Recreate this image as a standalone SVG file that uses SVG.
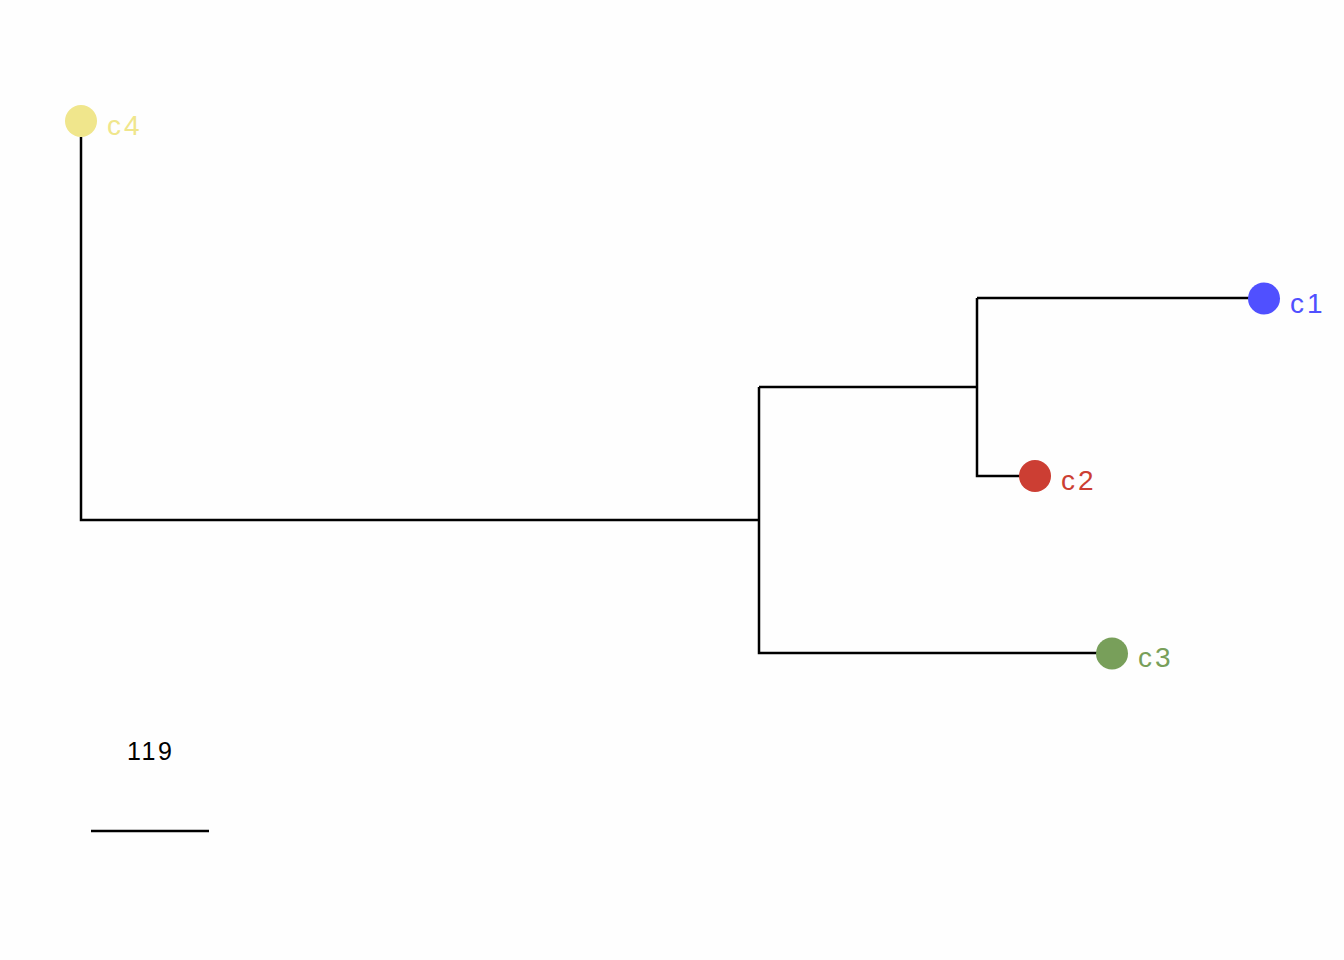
<svg xmlns="http://www.w3.org/2000/svg" width="1344" height="960" viewBox="0 0 1344 960">
<style>
.br{fill:none;stroke:#000;stroke-width:2.5;stroke-linecap:butt}
.lbl{font-family:"Liberation Sans",Arial,sans-serif;font-size:28px;letter-spacing:3px}
.sc{font-family:"Liberation Sans",Arial,sans-serif;font-size:25px;letter-spacing:2.5px;fill:#000}
</style>
<rect width="1344" height="960" fill="#fefefe"/>
<g id="connectors">
<path class="br" d="M81,137 V320"/>
<path class="br" d="M81,320 V520 H759"/>
<path class="br" d="M759,387 V653 H1100"/>
<path class="br" d="M759,387 H977"/>
<path class="br" d="M977,298 V476 H1022"/>
<path class="br" d="M977,298 H1250"/>
</g>
<g id="c1">
<circle cx="1264" cy="298.5" r="16" fill="#5050ff"/>
<text class="lbl" x="1290" y="312.5" fill="#5050ff">c1</text>
</g>
<g id="c2">
<circle cx="1035" cy="476" r="16" fill="#cc3e33"/>
<text class="lbl" x="1061" y="490" fill="#cc3e33">c2</text>
</g>
<g id="c3">
<circle cx="1112" cy="653.5" r="16" fill="#789f5a"/>
<text class="lbl" x="1138" y="667" fill="#789f5a">c3</text>
</g>
<g id="c4">
<circle cx="81" cy="121" r="16" fill="#f0e68c"/>
<text class="lbl" x="107" y="134.5" fill="#f0e68c">c4</text>
</g>
<g id="scale">
<text class="sc" x="127" y="759.5">119</text>
<line x1="91" y1="831" x2="209" y2="831" stroke="#000" stroke-width="2.5"/>
</g>
</svg>
